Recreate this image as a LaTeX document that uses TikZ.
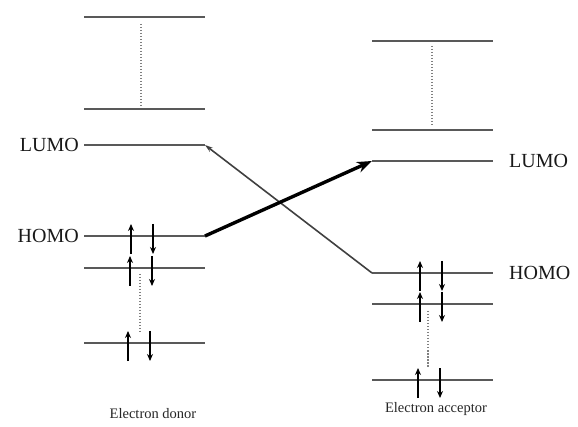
\documentclass[tikz,border=0pt]{standalone}
\usepackage{fontspec}
\setmainfont{Liberation Serif}
\usetikzlibrary{arrows.meta}
\tikzset{
  level/.style={draw=black!65,line width=1.8pt},
  gap/.style={draw=black!50,line width=1.4pt,dash pattern=on 1.5pt off 1.5pt},
  spin/.style={draw=black,line width=2.6pt,-{Stealth[length=7pt,width=6pt]}},
  orb/.style={font=\fontsize{20}{20}\selectfont,text=black!90,inner sep=2pt},
  side/.style={font=\fontsize{14.5}{14.5}\selectfont,text=black!85,inner sep=0pt},
}
\begin{document}
\begin{tikzpicture}[x=1pt,y=-1pt,>=stealth]
\useasboundingbox (0,0) rectangle (578,427);
% donor levels
\foreach \y/\n in {17/dt,109/db,145/dl,236/dh,268/dm,343/dn}
  \draw[level] (84,\y) coordinate (\n w) -- (205,\y) coordinate (\n e);
% acceptor levels
\foreach \y/\n in {41/at,130/ab,161/al,273/ah,304/am,380/an}
  \draw[level] (372,\y) coordinate (\n w) -- (493,\y) coordinate (\n e);
% gaps
\draw[gap] (141,24) -- (141,106);
\draw[gap] (140,274) -- (140,334);
\draw[gap] (432,46) -- (432,127);
\draw[gap] (428,311) -- (428,368);
% electron pairs
\foreach \x/\y in {131/236,130/268,128/343,420/273,420/304,418/380}{
  \draw[spin] (\x,\y+18) -- (\x,\y-12);
  \draw[spin] (\x+22,\y-12) -- (\x+22,\y+18);
}
% labels
\node[orb,anchor=east] (lumod) at (81,145) {LUMO};
\node[orb,anchor=east] (homod) at (81,236) {HOMO};
\node[orb,anchor=west] (lumoa) at (507,161) {LUMO};
\node[orb,anchor=west] (homoa) at (507,273) {HOMO};
\node[side] (donor) at (153,414) {Electron donor};
\node[side] (acceptor) at (436,409) {Electron acceptor};
% transfers
\draw[black!75,line width=1.6pt,-{Stealth[length=8pt,width=5pt]}] (ahw) -- (dle);
\draw[black,line width=3.4pt,-{Stealth[length=15pt,width=11pt]}] (dhe) -- (alw);
\end{tikzpicture}
\end{document}
